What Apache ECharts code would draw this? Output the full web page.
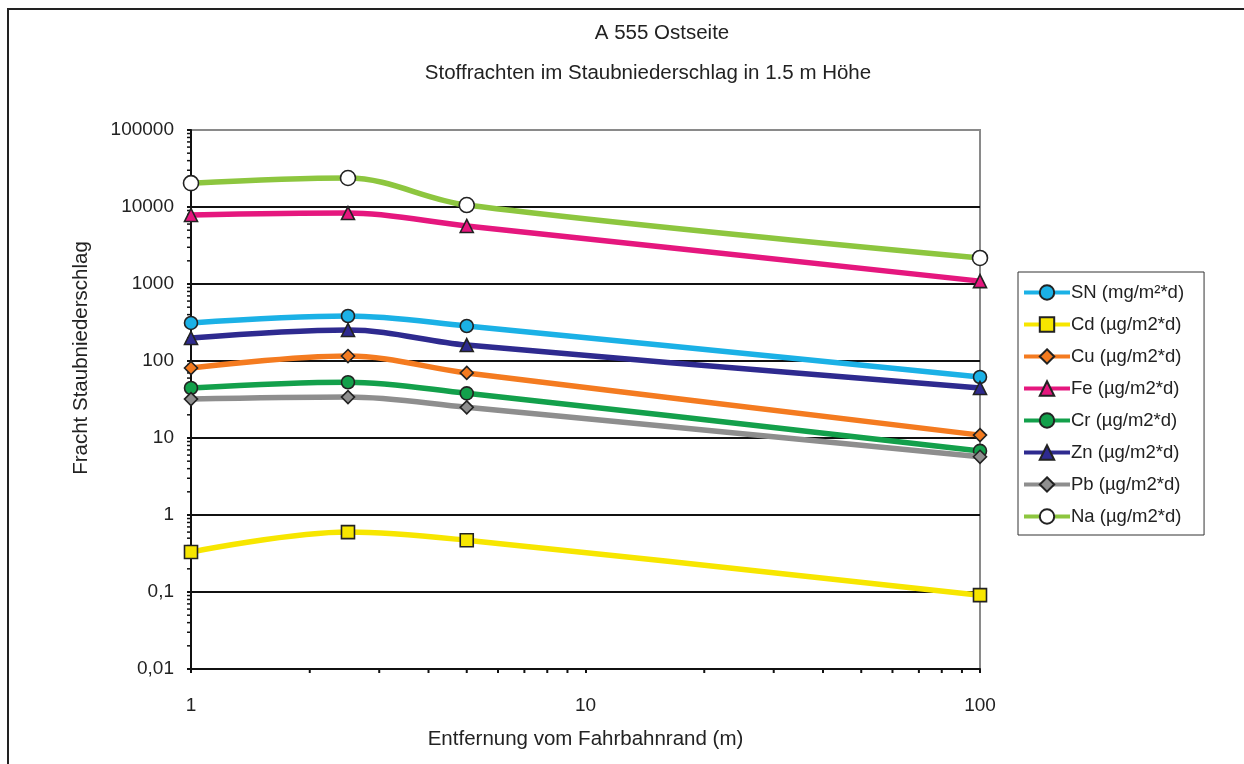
<!DOCTYPE html>
<html>
<head>
<meta charset="utf-8">
<script src="https://cdn.jsdelivr.net/npm/echarts@6/dist/echarts.min.js"></script>
<style>
html,body{margin:0;padding:0;background:#fff;}
#c{width:1244px;height:764px;}
</style>
</head>
<body>
<div id="c"></div>
<script>
// ---- data ----
var distances = [1, 2.5, 5, 100];
var seriesNames = ['SN (mg/m²*d)', 'Cd (µg/m2*d)', 'Cu (µg/m2*d)', 'Fe (µg/m2*d)', 'Cr (µg/m2*d)', 'Zn (µg/m2*d)', 'Pb (µg/m2*d)', 'Na (µg/m2*d)'];
var SN = [312, 384, 285, 62];
var Cd = [0.33, 0.60, 0.47, 0.091];
var Cu = [81, 116, 70, 10.9];
var Fe = [7870, 8350, 5670, 1090];
var Cr = [44.6, 53, 38, 6.8];
var Zn = [199, 253, 161, 44.6];
var Pb = [32, 34, 25, 5.7];
var Na = [20400, 23800, 10600, 2180];
var xMinorTicks = [2, 3, 4, 5, 6, 7, 8, 9, 20, 30, 40, 50, 60, 70, 80, 90];
var yDecades = [0.01, 0.1, 1, 10, 100, 1000, 10000];
var yMinorFactors = [2, 3, 4, 5, 6, 7, 8, 9];

// ---- styles ----
var lineColors = ['#1bb1e6', '#f7e600', '#f47b20', '#e5177e', '#13a04b', '#2e2a8f', '#8e8e8e', '#8dc63f'];
var symbols = ['circle', 'rect', 'diamond', 'triangle', 'circle', 'triangle', 'diamond', 'circle'];
var symbolFills = ['#1bb1e6', '#f7e600', '#f47b20', '#e5177e', '#13a04b', '#2e2a8f', '#8e8e8e', '#ffffff'];
var symbolSizes = [13, 13, 13, 13, 13, 13, 13, 15];
var allValues = [SN, Cd, Cu, Fe, Cr, Zn, Pb, Na];

var yMinorTicks = [];
yDecades.forEach(function (d) { yMinorFactors.forEach(function (m) { yMinorTicks.push(+(d * m).toPrecision(3)); }); });

var FONT = 'Liberation Sans, Arial, sans-serif';
var chart = echarts.init(document.getElementById('c'), null, {renderer: 'canvas'});

var series = allValues.map(function (vals, i) {
  return {
    name: seriesNames[i],
    type: 'line',
    smooth: 0.35,
    data: distances.map(function (x, k) { return [x, vals[k]]; }),
    symbol: symbols[i],
    symbolSize: symbolSizes[i],
    lineStyle: {color: lineColors[i], width: 5.5},
    itemStyle: {color: symbolFills[i], borderColor: '#222', borderWidth: 1.6},
    z: 3 + i
  };
});

// minor ticks via custom series
series.push({
  type: 'custom',
  silent: true,
  clip: false,
  z: 1,
  data: xMinorTicks.map(function (v) { return [v]; }),
  renderItem: function (params, api) {
    var p = api.coord([api.value(0), 0.01]);
    return {type: 'line', shape: {x1: p[0], y1: p[1], x2: p[0], y2: p[1] + 4}, style: {stroke: '#111', lineWidth: 2}};
  }
});
series.push({
  type: 'custom',
  silent: true,
  clip: false,
  z: 1,
  data: yMinorTicks.map(function (v) { return [v]; }),
  renderItem: function (params, api) {
    var p = api.coord([1, api.value(0)]);
    return {type: 'line', shape: {x1: p[0] - 4, y1: p[1], x2: p[0], y2: p[1]}, style: {stroke: '#111', lineWidth: 1.5}};
  }
});

chart.setOption({
  animation: false,
  backgroundColor: '#ffffff',
  textStyle: {fontFamily: FONT},
  grid: {left: 191, right: 264, top: 130, bottom: 95, show: true, borderColor: '#8a8a8a', borderWidth: 2, backgroundColor: 'transparent'},
  graphic: [
    {type: 'polyline', shape: {points: [[8, 764], [8, 9], [1244, 9]]}, style: {stroke: '#222', lineWidth: 2, fill: null}, z: 100},
    {type: 'text', x: 662, y: 33, style: {text: 'A 555 Ostseite', fontSize: 20.5, fontFamily: FONT, fill: '#222', textAlign: 'center', textVerticalAlign: 'middle'}},
    {type: 'text', x: 648, y: 73, style: {text: 'Stoffrachten im Staubniederschlag in 1.5 m Höhe', fontSize: 20.5, fontFamily: FONT, fill: '#222', textAlign: 'center', textVerticalAlign: 'middle'}},
    {type: 'text', x: 81, y: 358, rotation: Math.PI / 2, style: {text: 'Fracht Staubniederschlag', fontSize: 20.5, fontFamily: FONT, fill: '#222', textAlign: 'center', textVerticalAlign: 'middle'}}
  ],
  legend: {
    orient: 'vertical',
    left: 1018,
    top: 272,
    padding: [11, 20, 9, 4],
    itemWidth: 46,
    itemHeight: 18,
    itemGap: 13,
    borderColor: '#333',
    borderWidth: 1,
    lineStyle: {width: 4},
    textStyle: {fontSize: 18.5, fontFamily: FONT, color: '#222', padding: [0, 0, 0, -4]},
    data: seriesNames
  },
  xAxis: {
    type: 'log',
    logBase: 10,
    min: 1,
    max: 100,
    name: 'Entfernung vom Fahrbahnrand (m)',
    nameLocation: 'middle',
    nameGap: 60,
    nameTextStyle: {fontSize: 20.5, color: '#222', fontFamily: FONT},
    axisLine: {lineStyle: {color: '#111', width: 2}},
    axisTick: {show: true, length: 4, lineStyle: {color: '#111', width: 2}},
    axisLabel: {fontSize: 19, color: '#222', margin: 27, fontFamily: FONT},
    splitLine: {show: false}
  },
  yAxis: {
    type: 'log',
    logBase: 10,
    min: 0.01,
    max: 100000,
    axisLine: {show: true, lineStyle: {color: '#111', width: 2}},
    axisTick: {show: true, length: 4, lineStyle: {color: '#111', width: 2}},
    axisLabel: {fontSize: 19, color: '#222', margin: 17, fontFamily: FONT,
      formatter: function (v) { return String(+v.toPrecision(3)).replace('.', ','); }},
    splitLine: {show: true, showMaxLine: false, showMinLine: false, lineStyle: {color: '#111', width: 2}}
  },
  series: series
});
</script>
</body>
</html>
